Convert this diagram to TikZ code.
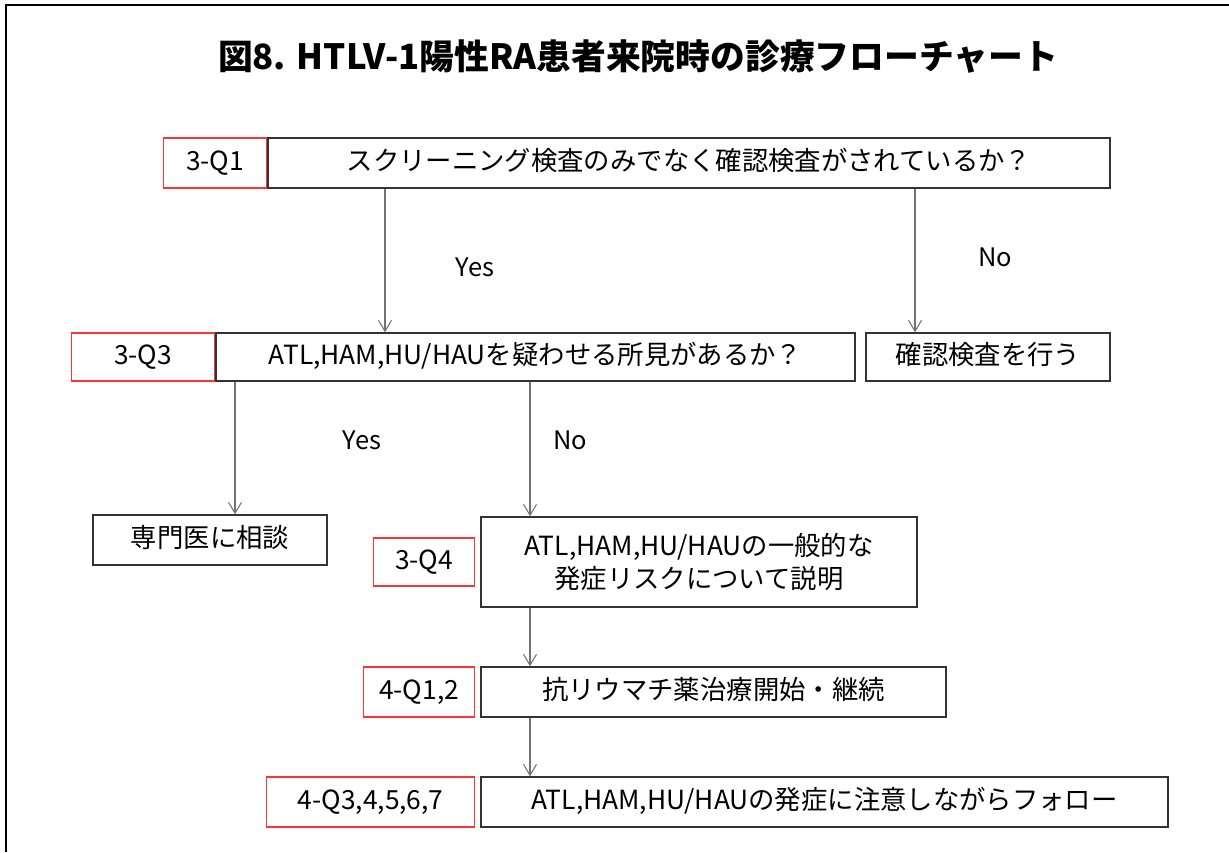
\documentclass[tikz,border=0pt]{standalone}
\usepackage{fontspec}
\setmainfont{Noto Sans CJK JP}
\usetikzlibrary{arrows.meta}

\begin{document}
\begin{tikzpicture}[x=0.02cm, y=-0.02cm,
		cell/.style={draw=black!80, line width=0.8pt, minimum height=1cm, inner sep=0pt, font=\fontsize{15}{19}\selectfont, align=center},
		box/.style={cell, text height=0.95em, text depth=0.05em},
		tag/.style={box, draw=red!80, minimum height=1cm},
		lbl/.style={font=\fontsize{14.5}{17}\selectfont},
		arr/.style={draw=black!55, line width=0.6pt, -{Straight Barb[length=2.2mm, width=2.6mm]}}]
	\useasboundingbox (0,0) rectangle (1229,852);
	\draw[line width=1.7pt] (6,852) -- (6,5) -- (1229,5);
	\node[font=\fontsize{19.8}{24}\selectfont\bfseries] (title) at (638,57) {図8. HTLV-1陽性RA患者来院時の診療フローチャート};
	% questions
	\node[box, minimum width=16.84cm] (q1) at (689,163) {スクリーニング検査のみでなく確認検査がされているか？};
	\node[tag, minimum width=2.06cm, anchor=east] (t1) at (q1.west) {3-Q1};
	\node[box, minimum width=12.78cm, minimum height=0.96cm] (q3) at (535.5,357) {ATL,HAM,HU/HAUを疑わせる所見があるか？};
	\node[tag, minimum width=2.86cm, minimum height=0.96cm, anchor=east] (t3) at (q3.west) {3-Q3};
	\node[box, minimum width=4.88cm, minimum height=0.96cm] (conf) at (988,357) {確認検査を行う};
	\node[box, minimum width=4.68cm] (spec) at (210,540) {専門医に相談};
	\node[cell, minimum width=8.72cm, minimum height=1.8cm] (q4) at (699,562) {ATL,HAM,HU/HAUの一般的な\\発症リスクについて説明};
	\node[tag, minimum width=2.02cm, minimum height=0.96cm, anchor=east] (t4) at ([xshift=-0.1cm]q4.west) {3-Q4};
	\node[box, minimum width=9.3cm] (q12) at (713.5,692) {抗リウマチ薬治療開始・継続};
	\node[tag, minimum width=2.22cm, anchor=east] (t12) at ([xshift=-0.1cm]q12.west) {4-Q1,2};
	\node[box, minimum width=13.74cm] (q37) at (824.5,802) {ATL,HAM,HU/HAUの発症に注意しながらフォロー};
	\node[tag, minimum width=4.16cm, anchor=east] (t37) at ([xshift=-0.1cm]q37.west) {4-Q3,4,5,6,7};
	% columns of the arrows
	\coordinate (c1) at (385,0);
	\coordinate (c2) at (915,0);
	\coordinate (c3) at (235,0);
	\coordinate (c4) at (530,0);
	\draw[arr] (c1 |- q1.south) -- (c1 |- q3.north);
	\draw[arr] (c2 |- q1.south) -- (c2 |- conf.north);
	\draw[arr] (c3 |- q3.south) -- (c3 |- spec.north);
	\draw[arr] (c4 |- q3.south) -- (c4 |- q4.north);
	\draw[arr] (c4 |- q4.south) -- (c4 |- q12.north);
	\draw[arr] (c4 |- q12.south) -- (c4 |- q37.north);
	\node[lbl] (yes1) at (475,267) {Yes};
	\node[lbl] (no1) at (995,257) {No};
	\node[lbl] (yes3) at (362,440) {Yes};
	\node[lbl] (no3) at (570,440) {No};
\end{tikzpicture}
\end{document}
